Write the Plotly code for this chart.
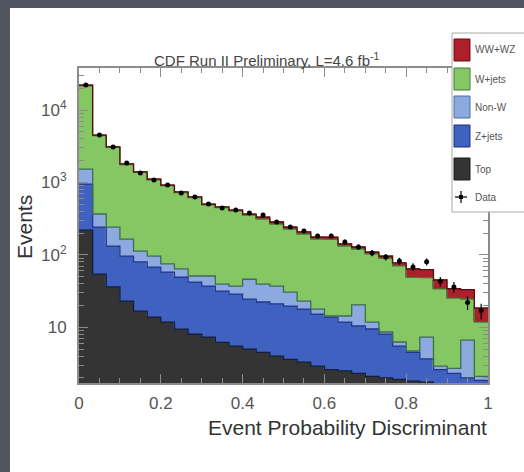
import numpy as np
import plotly.graph_objects as go

# Event probability discriminant, 30 bins from 0 to 1
bin_edges = np.linspace(0.0, 1.0, 31)

# Background predictions per bin (events)
top_quark = [220, 54, 36, 23, 16.7, 13.8, 11.8, 9.4, 8.0, 7.3, 6.2, 5.5, 5.0, 4.5, 4.0,
             3.6, 3.3, 2.9, 2.6, 2.5, 2.3, 2.1, 2.0, 1.9, 1.8, 1.75, 1.6, 1.5, 1.4, 1.3]
z_jets = [730, 188, 96, 73, 63, 54, 46, 39.6, 34, 29.7, 25.4, 23.2, 19.5, 17.8, 17,
          16, 14.5, 12.3, 11.2, 9.3, 8.1, 7.35, 6.05, 3.6, 2.7, 1.9, 1.0, 0.8, 0.6, 0.55]
non_w = [580, 124, 110, 69, 33, 28, 17, 15, 9, 14, 7.9, 8.3, 21.5, 17.2, 16,
         11, 5.2, 2.6, 0.5, 2.5, 9.9, 2.35, 0.55, 0.75, 0.2, 3.65, 0.3, 0.4, 4.65, 0.25]
w_jets = [19970, 4054, 2798, 1600, 1259, 992, 827, 661, 566, 439, 410, 368, 309, 272, 229,
          196, 171, 147, 149, 118, 100, 91, 81, 64, 44, 41, 31, 22.6, 17.9, 9.7]
ww_wz = [500, 80, 60, 35, 28, 22, 18, 15, 13, 10, 10, 10, 10, 21, 18,
         15, 13, 11, 11, 9, 8, 6, 6, 7, 15, 14, 11, 8.7, 8.5, 6.6]

# Observed events per bin
data = [22100, 4520, 3080, 1850, 1350, 1080, 920, 714, 628, 503, 443, 416, 378, 355, 284,
        242, 213, 182, 182, 150, 128, 106, 93, 82, 68, 80, 43, 36, 22, 17]

x_ticks = [0, 0.2, 0.4, 0.6, 0.8, 1]
x_ticklabels = ["0", "0.2", "0.4", "0.6", "0.8", "1"]
y_ticks = [10, 100, 1000, 10000]
y_ticklabels = ["10", "10<sup>2</sup>", "10<sup>3</sup>", "10<sup>4</sup>"]

legend_labels = ["WW+WZ", "W+jets", "Non-W", "Z+jets", "Top", "Data"]

# (name, values, fill colour, outline colour), bottom of stack first
stack = [
    ("Top", top_quark, "#343434", "#151c3c"),
    ("Z+jets", z_jets, "#3f62c0", "#22358a"),
    ("Non-W", non_w, "#8caae0", "#3f6b58"),
    ("W+jets", w_jets, "#85c763", "#3f7a3a"),
    ("WW+WZ", ww_wz, "#ad1f2a", "#5a0e12"),
]

W, H = 524, 472
L, R, T, B = 79, 36, 68, 89
PW, PH = W - L - R, H - T - B


def px(x):
    return (x - L) / PW


def py(y):
    return (H - B - y) / PH


centers = 0.5 * (bin_edges[:-1] + bin_edges[1:])
width = bin_edges[1] - bin_edges[0]

fig = go.Figure()

for name, vals, fill, _ in stack:
    fig.add_trace(go.Bar(
        x=centers, y=vals, width=width, name=name,
        marker=dict(color=fill, line=dict(color=fill, width=0.6)),
        showlegend=False,
    ))

# step outlines along the top of each stacked layer
cum = np.zeros(len(centers))
for name, vals, _, edge in stack:
    cum = cum + np.asarray(vals, dtype=float)
    fig.add_trace(go.Scatter(
        x=bin_edges, y=np.append(cum, cum[-1]), mode="lines",
        line=dict(color=edge, width=1.3, shape="hv"),
        hoverinfo="skip", showlegend=False,
    ))

fig.add_trace(go.Scatter(
    x=centers, y=data, mode="markers", name="Data",
    marker=dict(color="black", size=5, symbol="circle"),
    error_y=dict(type="sqrt", color="black", thickness=1.2, width=0),
    showlegend=False,
))

shapes = []
# white page panel inset from the dark frame on the left and top
shapes.append(dict(type="rect", xref="paper", yref="paper", x0=px(10), x1=px(W),
                   y0=py(H), y1=py(8), fillcolor="white", line=dict(width=0),
                   layer="below"))

# legend box (its right side runs off the page)
box_line = dict(color="#a8a8a8", width=1)
shapes.append(dict(type="rect", xref="paper", yref="paper", x0=px(452), x1=px(W),
                   y0=py(212), y1=py(33), fillcolor="white",
                   line=dict(width=0), layer="above"))
for (xa, ya, xb, yb) in [(452, 33, W, 33), (452, 212, W, 212), (452, 33, 452, 212)]:
    shapes.append(dict(type="line", xref="paper", yref="paper", x0=px(xa), x1=px(xb),
                       y0=py(ya), y1=py(yb), line=box_line, layer="above"))
swatch_rows = [(39, 61), (68, 90), (96, 118), (125, 147), (158, 180)]
legend_fill = [s[2] for s in reversed(stack)]
legend_edge = ["#6a0f15", "#3f7a3a", "#4d6f9c", "#1c2f78", "#1a1a1a"]
for (y0, y1), fc, ec in zip(swatch_rows, legend_fill, legend_edge):
    shapes.append(dict(type="rect", xref="paper", yref="paper", x0=px(454), x1=px(470),
                       y0=py(y1), y1=py(y0), fillcolor=fc,
                       line=dict(color=ec, width=1), layer="above"))
# data marker in legend
shapes.append(dict(type="line", xref="paper", yref="paper", x0=px(455), x1=px(467),
                   y0=py(197), y1=py(197), line=dict(color="black", width=1.2), layer="above"))
shapes.append(dict(type="line", xref="paper", yref="paper", x0=px(461), x1=px(461),
                   y0=py(203), y1=py(191), line=dict(color="black", width=1.2), layer="above"))
shapes.append(dict(type="rect", xref="paper", yref="paper", x0=px(459), x1=px(463),
                   y0=py(199), y1=py(195), fillcolor="black",
                   line=dict(color="black", width=0), layer="above"))

annotations = []
legend_y = [50, 79, 107, 136, 169, 197]
for text, yc in zip(legend_labels, legend_y):
    annotations.append(dict(text=text, xref="paper", yref="paper", x=px(473), y=py(yc),
                            xanchor="left", yanchor="middle", showarrow=False,
                            font=dict(size=10, color="#555555")))

annotations.append(dict(text="CDF Run II Preliminary, L=4.6 fb<sup>-1</sup>",
                        xref="paper", yref="paper", x=px(267), y=py(59),
                        xanchor="center", yanchor="middle", showarrow=False,
                        font=dict(size=15, color="#444444")))
annotations.append(dict(text="Event Probability Discriminant", xref="paper", yref="paper",
                        x=px(489), y=py(427), xanchor="right", yanchor="middle",
                        showarrow=False, font=dict(size=21, color="#333333")))
annotations.append(dict(text="Events", xref="paper", yref="paper", x=px(24), y=py(227),
                        xanchor="center", yanchor="middle", textangle=-90,
                        showarrow=False, font=dict(size=21, color="#333333")))

minor_y = [m * 10 ** k for k in range(0, 5) for m in range(2, 10)]

fig.update_layout(
    width=W, height=H,
    margin=dict(l=L, r=R, t=T, b=B, pad=0),
    paper_bgcolor="#50555f", plot_bgcolor="white",
    barmode="stack", bargap=0,
    showlegend=False,
    font=dict(family="Liberation Sans, Arial, sans-serif", color="#444444"),
    shapes=shapes, annotations=annotations,
    xaxis=dict(
        range=[0, 1], tickmode="array", tickvals=x_ticks, ticktext=x_ticklabels,
        ticks="inside", ticklen=9, tickwidth=1, tickcolor="#8c8c8c",
        minor=dict(ticks="inside", ticklen=5, dtick=0.05, tick0=0, tickcolor="#8c8c8c"),
        showline=True, linecolor="#8c8c8c", linewidth=2, mirror="ticks",
        showgrid=False, zeroline=False,
        tickfont=dict(size=17, color="#555555"), ticklabelstandoff=4,
    ),
    yaxis=dict(
        type="log", range=[0.23, 4.58], tickmode="array", tickvals=y_ticks,
        ticktext=y_ticklabels,
        ticks="inside", ticklen=9, tickwidth=1, tickcolor="#8c8c8c",
        minor=dict(ticks="inside", ticklen=5, tickmode="array", tickvals=minor_y,
                   tickcolor="#8c8c8c"),
        showline=True, linecolor="#8c8c8c", linewidth=2, mirror="ticks",
        showgrid=False, zeroline=False,
        tickfont=dict(size=17, color="#555555"), ticklabelstandoff=7,
    ),
)

fig.write_html("out.html", config={"displayModeBar": False})
